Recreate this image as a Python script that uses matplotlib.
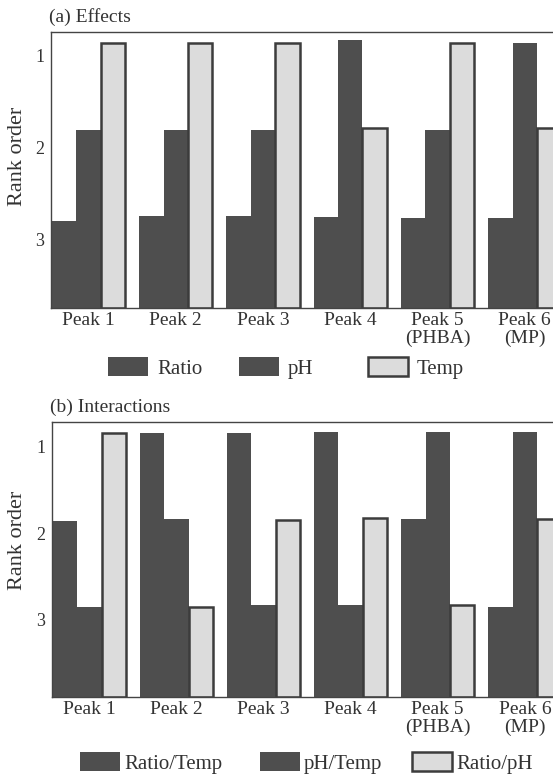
import numpy as np
import matplotlib
matplotlib.use("Agg")
import matplotlib.pyplot as plt
from matplotlib.patches import Patch

plt.rcParams['font.family'] = ['Liberation Serif', 'DejaVu Serif']

peaks = ['Peak 1', 'Peak 2', 'Peak 3', 'Peak 4', 'Peak 5\n(PHBA)', 'Peak 6\n(MP)']

# (a) effects, rank order
effects_ratio = [2.80, 2.75, 2.75, 2.76, 2.77, 2.77]
effects_ph = [1.81, 1.81, 1.81, 0.83, 1.81, 0.86]
effects_temp = [0.86, 0.86, 0.86, 1.79, 0.86, 1.79]
effects_labels = ['Ratio', 'pH', 'Temp']

# (b) interactions
inter_ratio_temp = [1.86, 0.85, 0.85, 0.84, 1.84, 2.85]
inter_ph_temp = [2.85, 1.84, 2.83, 2.83, 0.84, 0.84]
inter_ratio_ph = [0.85, 2.85, 1.85, 1.83, 2.83, 1.84]
inter_labels = ['Ratio/Temp', 'pH/Temp', 'Ratio/pH']

DARK = '#4e4e4e'
LIGHT = '#dcdcdc'
EDGE = '#3c3c3c'
TXT = '#333333'
FS_TICK = 14
FS_LAB = 16
FS_LEG = 15

fig = plt.figure(figsize=(5.53, 7.82), dpi=100)

ax_a = fig.add_axes([51 / 553, 1 - 308 / 782, 513 / 553, 276 / 782])
ax_b = fig.add_axes([52 / 553, 1 - 697 / 782, 512 / 553, 275 / 782])

x = np.arange(len(peaks))
w = 0.28
styles = [(DARK, DARK, 0), (DARK, DARK, 0), (LIGHT, EDGE, 1.8)]


def draw_panel(ax, series, ylim, title):
    base = ylim[0]
    for k, (vals, (fc, ec, lw)) in enumerate(zip(series, styles)):
        vals = np.array(vals)
        ax.bar(x + (k - 1) * w, vals - base, bottom=base, width=w,
               color=fc, edgecolor=ec, linewidth=lw, zorder=2)
    ax.set_ylim(*ylim)
    ax.set_xlim(-0.43, 5.45)
    ax.set_yticks([1, 2, 3])
    ax.set_xticks(x)
    ax.set_xticklabels(peaks, fontsize=FS_TICK, color=TXT, linespacing=1.05)
    ax.tick_params(length=0, colors=TXT)
    ax.tick_params(axis='y', pad=5, labelsize=13)
    ax.tick_params(axis='x', pad=3)
    for s in ax.spines.values():
        s.set_color('#444444')
        s.set_linewidth(1.0)
    ax.set_ylabel('Rank order', fontsize=FS_LAB, color=TXT)
    ax.set_title(title, loc='left', fontsize=FS_TICK, color=TXT, pad=7, x=-0.004)


draw_panel(ax_a, [effects_ratio, effects_ph, effects_temp], (3.75, 0.74), '(a) Effects')
draw_panel(ax_b, [inter_ratio_temp, inter_ph_temp, inter_ratio_ph], (3.89, 0.72), '(b) Interactions')
ax_a.yaxis.set_label_coords(-0.047, 0.55)
ax_b.yaxis.set_label_coords(-0.049, 0.57)


def add_legend(labels, xs, y, textpad):
    for lab, xp, (fc, ec, lw) in zip(labels, xs, styles):
        h = Patch(facecolor=fc, edgecolor=ec, linewidth=lw)
        leg = fig.legend(handles=[h], labels=[lab], loc='center left',
                         bbox_to_anchor=(xp, y), frameon=False, fontsize=FS_LEG,
                         handlelength=1.92, handleheight=0.96,
                         handletextpad=textpad, borderpad=0, borderaxespad=0)
        for t in leg.get_texts():
            t.set_color(TXT)


add_legend(effects_labels, [108 / 553, 239 / 553, 368 / 553], 1 - 368 / 782, 0.43)
add_legend(inter_labels, [80 / 553, 260 / 553, 412 / 553], 1 - 763 / 782, 0.19)

fig.savefig('out.png', dpi=100)
